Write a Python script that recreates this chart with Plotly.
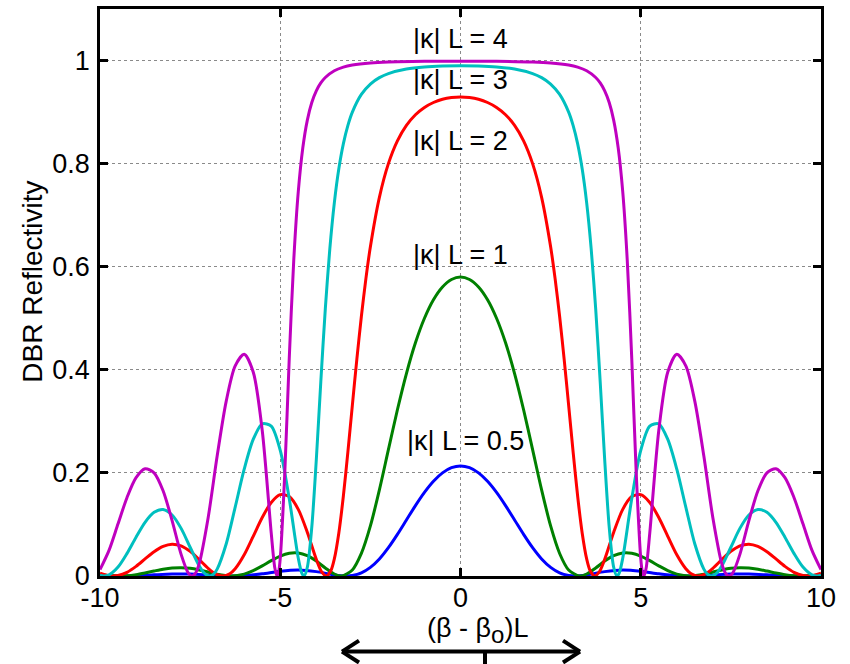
import plotly.graph_objects as go

# ---------------- data ----------------
x_tick_vals = [-10, -5, 0, 5, 10]
x_tick_text = ["-10", "-5", "0", "5", "10"]
y_tick_vals = [0, 0.2, 0.4, 0.6, 0.8, 1.0]
y_tick_text = ["0", "0.2", "0.4", "0.6", "0.8", "1"]

labels = ["|κ| L = 0.5", "|κ| L = 1", "|κ| L = 2", "|κ| L = 3", "|κ| L = 4"]
colors = ["#0000FF", "#008000", "#FF0000", "#00BFBF", "#BF00BF"]

x_k05 = [-10, -9.75, -9.44, -9, -8.5, -8, -7.5, -7, -6.5, -6.3, -6, -5.5, -5, -4.5, -4, -3.5, -3.18, -3,
         -2.75, -2.5, -2.25, -2, -1.75, -1.5, -1.25, -1, -0.75, -0.5, -0.25, 0, 0.25, 0.5, 0.75, 1, 1.25,
         1.5, 1.75, 2, 2.25, 2.5, 2.75, 3, 3.18, 3.5, 4, 4.5, 5, 5.5, 6, 6.3, 6.5, 7, 7.5, 8, 8.5, 9,
         9.44, 9.75, 10]
r_k05 = [0.0007, 0.0002, 0, 0.0006, 0.0023, 0.0038, 0.0039, 0.0021, 0.0002, 0, 0.0006, 0.0043, 0.0093,
         0.0117, 0.0085, 0.0021, 0, 0.0010, 0.0061, 0.0167, 0.0331, 0.0550, 0.0808, 0.1087, 0.1365,
         0.1621, 0.1837, 0.2000, 0.2101, 0.2135, 0.2101, 0.2000, 0.1837, 0.1621, 0.1365, 0.1087, 0.0808,
         0.0550, 0.0331, 0.0167, 0.0061, 0.0010, 0, 0.0021, 0.0085, 0.0117, 0.0093, 0.0043, 0.0006, 0,
         0.0002, 0.0021, 0.0039, 0.0038, 0.0023, 0.0006, 0, 0.0002, 0.0007]

x_k1 = [-10, -9.75, -9.48, -9.25, -9, -8.75, -8.5, -8.25, -8, -7.75, -7.5, -7.25, -7, -6.75, -6.36, -6,
        -5.75, -5.5, -5.25, -5, -4.75, -4.5, -4.25, -4, -3.75, -3.5, -3.3, -3, -2.75, -2.5, -2.25, -2,
        -1.75, -1.5, -1.25, -1, -0.75, -0.5, -0.25, 0, 0.25, 0.5, 0.75, 1, 1.25, 1.5, 1.75, 2, 2.25, 2.5,
        2.75, 3, 3.3, 3.5, 3.75, 4, 4.25, 4.5, 4.75, 5, 5.25, 5.5, 5.75, 6, 6.36, 6.75, 7, 7.25, 7.5,
        7.75, 8, 8.25, 8.5, 8.75, 9, 9.25, 9.48, 9.75, 10]
r_k1 = [0.0025, 0.0008, 0, 0.0006, 0.0027, 0.0059, 0.0096, 0.0131, 0.0155, 0.0162, 0.0149, 0.0117,
        0.0075, 0.0033, 0, 0.0037, 0.0104, 0.0197, 0.0299, 0.0387, 0.0441, 0.0446, 0.0393, 0.0289,
        0.0156, 0.0039, 0, 0.0117, 0.0437, 0.0971, 0.1671, 0.2451, 0.3225, 0.3928, 0.4524, 0.5000,
        0.5359, 0.5607, 0.5753, 0.5800, 0.5753, 0.5607, 0.5359, 0.5000, 0.4524, 0.3928, 0.3225, 0.2451,
        0.1671, 0.0971, 0.0437, 0.0117, 0, 0.0039, 0.0156, 0.0289, 0.0393, 0.0446, 0.0441, 0.0387,
        0.0299, 0.0197, 0.0104, 0.0037, 0, 0.0033, 0.0075, 0.0117, 0.0149, 0.0162, 0.0155, 0.0131,
        0.0096, 0.0059, 0.0027, 0.0006, 0, 0.0008, 0.0025]

x_k2 = [-10, -9.75, -9.64, -9.5, -9.25, -9, -8.75, -8.5, -8.25, -8, -7.75, -7.5, -7.25, -7, -6.8, -6.59,
        -6.4, -6.25, -6, -5.75, -5.5, -5.25, -5, -4.75, -4.5, -4.25, -4, -3.85, -3.72, -3.6, -3.5,
        -3.375, -3.25, -3.125, -3, -2.875, -2.75, -2.625, -2.5, -2.25, -2, -1.75, -1.5, -1.25, -1, -0.75,
        -0.5, -0.25, 0, 0.25, 0.5, 0.75, 1, 1.25, 1.5, 1.75, 2, 2.25, 2.5, 2.625, 2.75, 2.875, 3, 3.125,
        3.25, 3.375, 3.5, 3.6, 3.72, 3.85, 4, 4.25, 4.5, 4.75, 5, 5.25, 5.5, 5.75, 6, 6.25, 6.4, 6.59,
        6.8, 7, 7.25, 7.5, 7.75, 8, 8.25, 8.5, 8.75, 9, 9.25, 9.5, 9.64, 9.75, 10]
r_k2 = [0.0055, 0.0006, 0, 0.0009, 0.0072, 0.0187, 0.0331, 0.0471, 0.0575, 0.0618, 0.0585, 0.0479,
        0.0320, 0.0149, 0.0043, 0, 0.0044, 0.0141, 0.0412, 0.0770, 0.1135, 0.1427, 0.1578, 0.1541,
        0.1293, 0.0850, 0.0324, 0.0080, 0, 0.0096, 0.0332, 0.0836, 0.1547, 0.2399, 0.3312, 0.4208,
        0.5035, 0.5764, 0.6388, 0.7347, 0.8000, 0.8442, 0.8742, 0.8949, 0.9090, 0.9186, 0.9248, 0.9282,
        0.9294, 0.9282, 0.9248, 0.9186, 0.9090, 0.8949, 0.8742, 0.8442, 0.8000, 0.7347, 0.6388, 0.5764,
        0.5035, 0.4208, 0.3312, 0.2399, 0.1547, 0.0836, 0.0332, 0.0096, 0, 0.0080, 0.0324, 0.0850,
        0.1293, 0.1541, 0.1578, 0.1427, 0.1135, 0.0770, 0.0412, 0.0141, 0.0044, 0, 0.0043, 0.0149,
        0.0320, 0.0479, 0.0585, 0.0618, 0.0575, 0.0471, 0.0331, 0.0187, 0.0072, 0.0009, 0, 0.0006,
        0.0055]

x_k3 = [-10, -9.89, -9.75, -9.5, -9.25, -9, -8.75, -8.5, -8.25, -8, -7.75, -7.5, -7.25, -7.1, -6.96,
        -6.85, -6.75, -6.5, -6.25, -6, -5.75, -5.5, -5.25, -5, -4.75, -4.5, -4.4, -4.34, -4.25, -4.125,
        -4, -3.875, -3.75, -3.625, -3.5, -3.375, -3.25, -3.125, -3, -2.75, -2.5, -2.25, -2, -1.5, -1,
        -0.5, 0, 0.5, 1, 1.5, 2, 2.25, 2.5, 2.75, 3, 3.125, 3.25, 3.375, 3.5, 3.625, 3.75, 3.875, 4,
        4.125, 4.25, 4.34, 4.4, 4.5, 4.75, 5, 5.25, 5.5, 5.75, 6, 6.25, 6.5, 6.75, 6.85, 6.96, 7.1,
        7.25, 7.5, 7.75, 8, 8.25, 8.5, 8.75, 9, 9.25, 9.5, 9.75, 9.89, 10]
r_k3 = [0.0013, 0, 0.0023, 0.0174, 0.0439, 0.0753, 0.1041, 0.1235, 0.1290, 0.1184, 0.0924, 0.0558,
        0.0197, 0.0050, 0, 0.0037, 0.0133, 0.0620, 0.1336, 0.2072, 0.2649, 0.2953, 0.2908, 0.2437,
        0.1498, 0.0344, 0.0051, 0, 0.0167, 0.0948, 0.2255, 0.3768, 0.5184, 0.6348, 0.7240, 0.7900,
        0.8384, 0.8738, 0.9000, 0.9343, 0.9544, 0.9668, 0.9747, 0.9835, 0.9877, 0.9896, 0.9901, 0.9896,
        0.9877, 0.9835, 0.9747, 0.9668, 0.9544, 0.9343, 0.9000, 0.8738, 0.8384, 0.7900, 0.7240, 0.6348,
        0.5184, 0.3768, 0.2255, 0.0948, 0.0167, 0, 0.0051, 0.0344, 0.1498, 0.2437, 0.2908, 0.2953,
        0.2649, 0.2072, 0.1336, 0.0620, 0.0133, 0.0037, 0, 0.0050, 0.0197, 0.0558, 0.0924, 0.1184,
        0.1290, 0.1235, 0.1041, 0.0753, 0.0439, 0.0174, 0.0023, 0, 0.0013]

x_k4 = [-10, -9.75, -9.5, -9.25, -9, -8.75, -8.5, -8.25, -8, -7.75, -7.55, -7.45, -7.35, -7.25, -7,
        -6.75, -6.5, -6.25, -6, -5.75, -5.5, -5.25, -5.15, -5.09, -5.04, -5, -4.875, -4.75, -4.625,
        -4.5, -4.375, -4.25, -4.125, -4, -3.875, -3.75, -3.5, -3.25, -3, -2.5, -2, -1, -0.5, 0, 0.5, 1,
        2, 2.5, 3, 3.25, 3.5, 3.75, 3.875, 4, 4.125, 4.25, 4.375, 4.5, 4.625, 4.75, 4.875, 5, 5.04,
        5.09, 5.15, 5.25, 5.5, 5.75, 6, 6.25, 6.5, 6.75, 7, 7.25, 7.35, 7.45, 7.55, 7.75, 8, 8.25, 8.5,
        8.75, 9, 9.25, 9.5, 9.75, 10]
r_k4 = [0.0124, 0.0497, 0.1012, 0.1524, 0.1907, 0.2081, 0.2002, 0.1654, 0.1075, 0.0420, 0.0056, 0,
        0.0057, 0.0235, 0.1132, 0.2327, 0.3387, 0.4076, 0.4301, 0.3957, 0.2822, 0.0831, 0.0156, 0,
        0.0096, 0.0342, 0.1992, 0.4226, 0.6133, 0.7455, 0.8302, 0.8840, 0.9185, 0.9412, 0.9565, 0.9671,
        0.9801, 0.9871, 0.9912, 0.9953, 0.9971, 0.9984, 0.9986, 0.9987, 0.9986, 0.9984, 0.9971, 0.9953,
        0.9912, 0.9871, 0.9801, 0.9671, 0.9565, 0.9412, 0.9185, 0.8840, 0.8302, 0.7455, 0.6133, 0.4226,
        0.1992, 0.0342, 0.0096, 0, 0.0156, 0.0831, 0.2822, 0.3957, 0.4301, 0.4076, 0.3387, 0.2327,
        0.1132, 0.0235, 0.0057, 0, 0.0056, 0.0420, 0.1075, 0.1654, 0.2002, 0.2081, 0.1907, 0.1524,
        0.1012, 0.0497, 0.0124]

# label positions (data coords)
label_x = [0.15, 0.0, 0.0, 0.0, 0.0]
label_y = [0.262, 0.622, 0.843, 0.963, 1.041]

series_x = [x_k05, x_k1, x_k2, x_k3, x_k4]
series_r = [r_k05, r_k1, r_k2, r_k3, r_k4]
for xs, rs in zip(series_x, series_r):
    assert len(xs) == len(rs), (len(xs), len(rs))

FONT = "Liberation Sans, Arial, sans-serif"
FS = 27

fig = go.Figure()
for xs, rs, c, name in zip(series_x, series_r, colors, labels):
    fig.add_trace(go.Scatter(x=xs, y=rs, mode="lines", name=name,
                             line=dict(color=c, width=3, shape="spline", smoothing=0.8),
                             showlegend=False, cliponaxis=True))

for t, lx, ly in zip(labels, label_x, label_y):
    fig.add_annotation(x=lx, y=ly, xref="x", yref="y", text=t, showarrow=False,
                       font=dict(family=FONT, size=FS, color="black"),
                       xanchor="center", yanchor="middle")

# axis titles as annotations
fig.add_annotation(x=-0.093, y=0.519, xref="paper", yref="paper", text="DBR Reflectivity",
                   textangle=-90, showarrow=False, font=dict(family=FONT, size=28, color="black"),
                   xanchor="center", yanchor="middle")
fig.add_annotation(x=0.4508, y=-0.096, xref="paper", yref="paper",
                   text="(β - β<sub><span style='font-size:24px'>o</span></sub>)L",
                   showarrow=False, font=dict(family=FONT, size=FS, color="black"),
                   xanchor="left", yanchor="middle")

# double-headed arrow below the axis title
def px2paper(px, py):
    return (px - 100) / 721.0, (576 - py) / 570.0

arrow_segments = [((342, 652), (580, 652)), ((342, 652), (359, 641)), ((342, 652), (359, 663)),
                  ((580, 652), (563, 641)), ((580, 652), (563, 663)), ((485, 652), (485, 668))]
for (a, b) in arrow_segments:
    x0, y0 = px2paper(*a)
    x1, y1 = px2paper(*b)
    fig.add_shape(type="line", xref="paper", yref="paper", x0=x0, y0=y0, x1=x1, y1=y1,
                  line=dict(color="black", width=4))

axis_common = dict(showline=True, linecolor="black", linewidth=2.5, mirror="ticks",
                   ticks="inside", ticklen=8, tickwidth=2.5, tickcolor="black",
                   showgrid=True, gridcolor="#8a8a8a", griddash="dot", gridwidth=1,
                   zeroline=False, tickfont=dict(family=FONT, size=FS, color="black"))

fig.update_xaxes(range=[-10, 10], tickmode="array", tickvals=x_tick_vals, ticktext=x_tick_text,
                 ticklabelstandoff=-4, **axis_common)
fig.update_yaxes(range=[0, 1.1], tickmode="array", tickvals=y_tick_vals, ticktext=y_tick_text,
                 ticklabelstandoff=2, **axis_common)

fig.update_layout(width=850, height=664, margin=dict(l=100, r=29, t=6, b=88),
                  plot_bgcolor="white", paper_bgcolor="white",
                  font=dict(family=FONT, size=FS, color="black"))

fig.write_html("out.html")
